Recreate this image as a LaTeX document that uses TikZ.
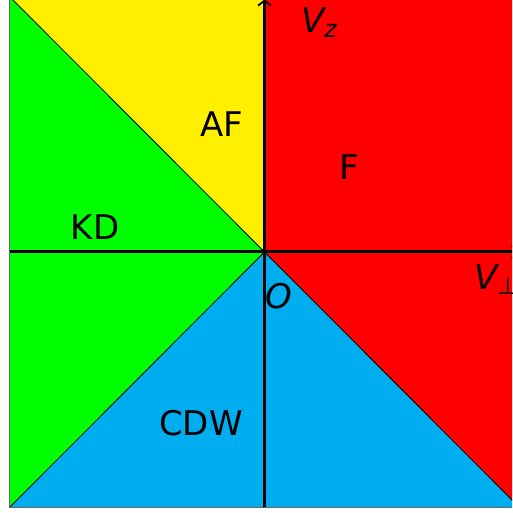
\documentclass[tikz,border=0pt]{standalone}
\usepackage{fontspec}
\setmainfont{DejaVu Sans}
\usetikzlibrary{arrows.meta}
\definecolor{afyellow}{RGB}{255,240,0}
\definecolor{kdgreen}{RGB}{0,255,0}
\definecolor{fred}{RGB}{255,0,0}
\definecolor{cdwcyan}{RGB}{0,174,239}
\begin{document}
\begin{tikzpicture}[x=1pt,y=1pt,
  axis/.style={line width=3pt,-{Straight Barb[length=5pt,width=13pt,line width=1.8pt]}},
  phase/.style={inner sep=0pt,anchor=base,font=\fontsize{34}{34}\selectfont},
  axlabel/.style={inner sep=0pt,anchor=base west,font=\fontsize{34}{34}\selectfont\itshape}]
\useasboundingbox (0,0) rectangle (512,513);
\clip (0,0) rectangle (512,513);
\coordinate (C) at (264.5,261);
\coordinate (TL) at (9.5,516.5);
\coordinate (BL) at (9.5,5.5);
\coordinate (BR) at (519.5,5.5);
\coordinate (TR) at (519.5,516.5);
\coordinate (T) at (264.5,516.5);
\coordinate (B) at (264.5,5.5);
\coordinate (L) at (9.5,261);
% regions
\fill[fred] (C) -- (T) -- (TR) -- (BR) -- cycle;
\fill[afyellow] (C) -- (TL) -- (T) -- cycle;
\fill[kdgreen] (C) -- (TL) -- (BL) -- cycle;
\fill[cdwcyan] (C) -- (BL) -- (BR) -- cycle;
\draw[line width=0.8pt] (TL) -- (C) -- (BR);
\draw[line width=0.8pt] (BL) -- (C);
\draw[black!60,line width=1.2pt] (TL) -- (BL) -- (BR);
% axes
\coordinate (xtip) at (518,261);
\coordinate (ytip) at (264.5,513.5);
\draw[axis] (L) -- (xtip);
\draw[axis] (B) -- (ytip);
% labels
\node[phase] (af) at (221.5,376) {AF};
\node[phase] (f) at (349,333) {F};
\node[phase] (kd) at (95,273) {KD};
\node[phase] (cdw) at (201,77) {CDW};
\node[axlabel] (o) at (265,204) {O};
\node[axlabel] (vz) at (301,480) {V\raisebox{-5pt}{\fontsize{24}{24}\selectfont z}};
\node[axlabel] (vp) at (474,223) {V\raisebox{-5pt}{\fontsize{24}{24}\selectfont\upshape ⊥}};
\end{tikzpicture}
\end{document}
